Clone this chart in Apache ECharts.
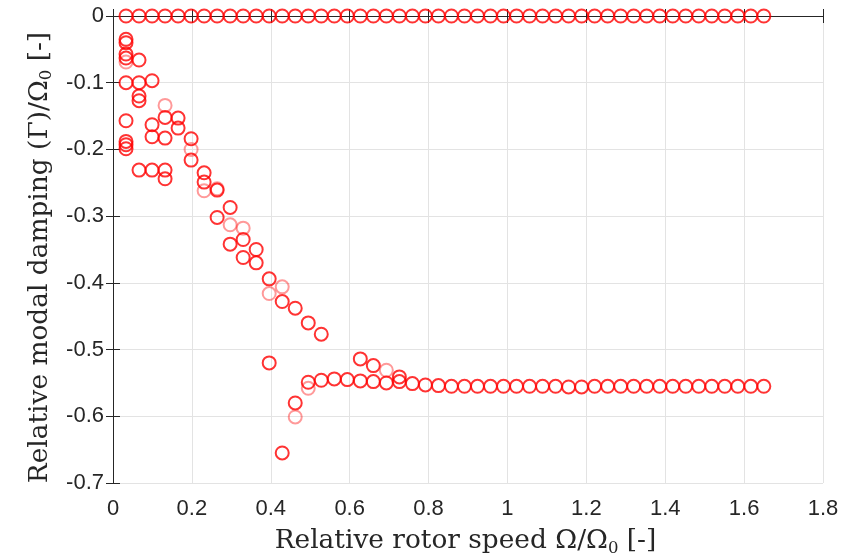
<!DOCTYPE html>
<html>
<head>
<meta charset="utf-8">
<script src="https://cdn.jsdelivr.net/npm/echarts@6/dist/echarts.min.js"></script>
<style>html,body{margin:0;padding:0;background:#fff}#c{width:846px;height:557px}</style>
</head>
<body>
<div id="c"></div>
<script>
// Speeds (relative rotor speed) : step 0.033
const speedStep = 0.033;
const topRowK = Array.from({length: 50}, (_, i) => i + 1); // indices of speeds with zero damping
const xTicks = ['0','0.2','0.4','0.6','0.8','1','1.2','1.4','1.6','1.8'];
const yTicks = ['-0.7','-0.6','-0.5','-0.4','-0.3','-0.2','-0.1','0'];

// [speed index k, damping] strong circles
const strongPts = [
  [1,-0.035],[1,-0.04],[1,-0.057],[1,-0.063],[1,-0.1],[1,-0.157],[1,-0.188],[1,-0.193],[1,-0.199],
  [2,-0.066],[2,-0.1],[2,-0.12],[2,-0.127],[2,-0.231],
  [3,-0.097],[3,-0.163],[3,-0.181],[3,-0.231],
  [4,-0.152],[4,-0.183],[4,-0.231],[4,-0.244],
  [5,-0.153],[5,-0.168],
  [6,-0.184],[6,-0.216],
  [7,-0.235],[7,-0.249],
  [8,-0.261],[8,-0.302],
  [9,-0.287],[9,-0.342],
  [10,-0.335],[10,-0.362],
  [11,-0.35],[11,-0.37],
  [12,-0.394],[12,-0.52],
  [13,-0.428],[13,-0.655],
  [14,-0.438],[14,-0.58],
  [15,-0.46],[15,-0.549],
  [16,-0.477],[16,-0.546],
  [17,-0.544],[18,-0.545],
  [19,-0.514],[19,-0.547],
  [20,-0.524],[20,-0.548],
  [21,-0.55],
  [22,-0.541],[22,-0.548],
  [23,-0.551],[24,-0.553],[25,-0.554],[26,-0.555],[27,-0.555],[28,-0.555],[29,-0.555],[30,-0.555],
  [31,-0.555],[32,-0.555],[33,-0.555],[34,-0.555],[35,-0.556],[36,-0.556],[37,-0.555],[38,-0.555],
  [39,-0.555],[40,-0.555],[41,-0.555],[42,-0.555],[43,-0.555],[44,-0.555],[45,-0.555],[46,-0.555],
  [47,-0.555],[48,-0.555],[49,-0.555],[50,-0.555]
];
// faint circles
const faintPts = [
  [1,-0.069],[4,-0.134],[6,-0.2],[7,-0.262],[8,-0.259],[9,-0.313],[10,-0.318],
  [12,-0.416],[13,-0.406],[14,-0.601],[15,-0.558],[21,-0.531]
];

const toXY = p => [+(p[0]*speedStep).toFixed(3), p[1]];
const topData = topRowK.map(k => [+(k*speedStep).toFixed(3), 0]);

const chart = echarts.init(document.getElementById('c'), null, {renderer: 'canvas'});
const labelFont = {fontFamily: 'Liberation Sans, Arial, sans-serif', fontSize: 22, color: '#262626'};
const serif = 'DejaVu Serif, Liberation Serif, serif';
const nameFont = {fontFamily: serif, fontSize: 26.4, color: '#262626'};
const subRich = {s: {fontFamily: serif, fontSize: 16.5, color: '#262626', verticalAlign: 'bottom', padding: [14,0,0,0]}};
const boxLine = {show: true, lineStyle: {color: '#262626', width: 1}};
const mkTick = () => ({show: true, inside: false, length: -7, lineStyle: {color: '#262626', width: 1}});
const marker = (opacity) => ({
  color: 'rgba(0,0,0,0)', borderColor: 'rgba(255,0,0,' + opacity + ')', borderWidth: 2
});
chart.setOption({
  animation: false,
  backgroundColor: '#fff',
  grid: {left: 113, top: 16, width: 710, height: 467, containLabel: false, outerBoundsMode: 'none'},
  xAxis: [{
    type: 'value', min: 0, max: 1.8, interval: 0.2, position: 'bottom',
    axisLine: boxLine, axisTick: mkTick(),
    axisLabel: Object.assign({margin: 15, formatter: v => xTicks[Math.round(v/0.2)]}, labelFont),
    splitLine: {show: true, lineStyle: {color: '#e3e3e3', width: 1}},
    name: 'Relative rotor speed Ω/Ω{s|0} [-]', nameLocation: 'middle', nameGap: 43,
    nameTextStyle: Object.assign({rich: subRich, padding: [0, 5, 0, 0]}, nameFont)
  }, {
    type: 'value', min: 0, max: 1.8, interval: 0.2, position: 'top',
    axisLine: boxLine, axisTick: mkTick(), axisLabel: {show: false}, splitLine: {show: false}
  }],
  yAxis: [{
    type: 'value', min: -0.7, max: 0, interval: 0.1, position: 'left',
    axisLine: boxLine, axisTick: mkTick(),
    axisLabel: Object.assign({margin: 9, formatter: v => yTicks[Math.round((v+0.7)/0.1)]}, labelFont),
    splitLine: {show: true, lineStyle: {color: '#e3e3e3', width: 1}},
    name: 'Relative modal damping (Γ)/Ω{s|0} [-]', nameLocation: 'middle', nameGap: 57,
    nameTextStyle: Object.assign({rich: subRich, padding: [0, 16, 0, 0]}, nameFont)
  }, {
    type: 'value', min: -0.7, max: 0, interval: 0.1, position: 'right',
    axisLine: boxLine, axisTick: mkTick(), axisLabel: {show: false}, splitLine: {show: false}
  }],
  series: [
    {type: 'scatter', clip: false, symbol: 'circle', symbolSize: 13, data: topData, itemStyle: marker(1)},
    {type: 'scatter', clip: false, symbol: 'circle', symbolSize: 13, data: faintPts.map(toXY), itemStyle: marker(0.5)},
    {type: 'scatter', clip: false, symbol: 'circle', symbolSize: 13, data: strongPts.map(toXY), itemStyle: marker(1)}
  ]
});
</script>
</body>
</html>
